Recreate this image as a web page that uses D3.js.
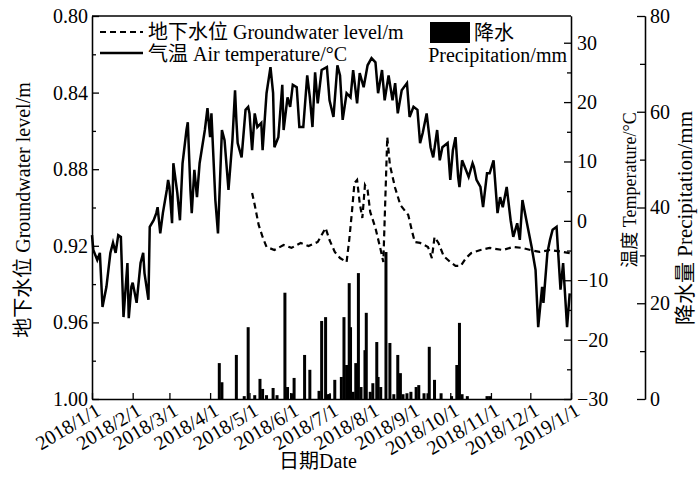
<!DOCTYPE html>
<html>
<head>
<meta charset="utf-8">
<script src="https://cdn.jsdelivr.net/npm/d3@7"></script>
<style>
body { margin: 0; background: #fff; }
svg text { font-family: "Liberation Serif", "Noto Sans CJK SC", serif; fill: #000; }
</style>
</head>
<body>
<svg width="700" height="490"></svg>
<script>
// daily air temperature, day offset from 2018/1/1 and value in °C
var tempDays = [0,1,4,6,8,11,14,16,18,20,22,24,27,28,30,31,34,37,39,40,43,44,47,49,50,52,54,57,58,59,61,62,65,67,69,72,73,75,76,78,80,82,86,88,90,91,94,96,99,101,104,107,109,110,111,114,117,119,120,122,124,126,129,130,133,136,138,139,142,145,146,149,151,153,156,158,161,164,166,168,170,172,175,179,181,184,187,189,191,194,197,199,202,204,207,210,213,216,218,221,223,226,229,231,233,236,240,242,245,248,250,252,255,258,260,263,265,267,271,273,275,277,279,280,282,284,287,290,291,293,296,298,301,303,306,309,311,313,316,319,321,324,326,328,331,335,338,340,343,344,347,349,351,354,357,359,362,364];
var tempVals = [-2.4,-4.9,-6.6,-5.4,-14.5,-11.1,-5.4,-3.7,-5.4,-2.4,-2.7,-16.2,-7.1,-16.4,-11.1,-10.4,-13.8,-7.1,-5.4,-8.8,-13.3,-1.0,0.1,1.3,2.3,-2.1,1.3,5.2,6.9,5.7,-0.4,9.7,4.7,0.1,9.7,15.3,16.6,5.2,1.3,8.6,4.0,9.7,15.3,19.0,14.1,18.1,3.5,-2.1,15.3,13.6,5.2,13.6,22.0,17.0,13.1,10.7,18.7,19.2,18.1,11.9,18.1,15.8,16.5,11.9,21.5,25.9,21.5,12.4,14.1,22.9,15.3,20.8,19.2,22.9,22.5,15.8,15.8,24.5,20.8,15.8,25.0,19.8,25.4,25.9,20.3,17.5,26.2,24.5,17.0,21.5,20.8,25.4,19.8,24.9,22.5,26.2,27.4,26.7,21.5,25.4,20.3,24.5,20.3,23.2,18.1,22.0,23.2,17.5,19.2,18.7,13.1,14.8,18.1,12.4,10.7,15.3,10.2,12.4,13.1,6.9,11.9,14.1,7.4,5.7,10.2,9.1,7.4,9.7,9.1,6.9,5.7,2.3,8.0,8.0,10.2,1.3,4.0,2.3,5.7,0.1,-2.7,-0.4,-3.2,3.5,0.1,-4.4,-8.3,-17.9,-11.1,-13.8,-5.4,-3.2,-1.5,-1.0,-11.6,-7.1,-17.9,-12.2];

// groundwater level (m)
var gwDays = [122,124,127,130,133,139,146,152,159,165,172,178,181,185,189,194,196,198,200,202,204,206,208,210,212,216,220,222,225,227,231,235,241,244,246,250,256,259,261,264,268,273,277,281,285,289,296,303,313,321,328,334,341,349,359,364];
var gwVals = [0.8924,0.8987,0.9091,0.9154,0.9206,0.9222,0.9196,0.9211,0.9185,0.9201,0.9180,0.9107,0.9170,0.9232,0.9264,0.9285,0.9170,0.9029,0.8872,0.8856,0.8977,0.9055,0.8883,0.8909,0.9023,0.9107,0.9222,0.9285,0.8632,0.8778,0.8898,0.8987,0.9039,0.9128,0.9180,0.9185,0.9206,0.9264,0.9154,0.9185,0.9254,0.9285,0.9305,0.9305,0.9264,0.9238,0.9222,0.9211,0.9222,0.9206,0.9211,0.9222,0.9232,0.9222,0.9232,0.9238];

// daily precipitation (mm)
var rainDays = [97,99,110,116,119,124,128,130,133,138,141,147,149,152,154,162,166,173,175,178,180,181,185,190,192,194,196,197,199,201,203,205,208,209,212,214,217,218,220,224,227,230,233,235,237,240,243,247,249,253,256,257,261,266,274,278,280,282,286,301,303];
var rainVals = [7.5,3.5,9.2,0.6,15,0.8,4.2,2.1,0.8,2.3,0.8,22.2,2.5,1.2,4.4,9.2,6.1,1.7,16.3,17.1,1.0,1.0,4.0,4.6,17.1,7.1,24.2,15.0,1.5,7.5,26.3,2.5,10.2,18.0,1.5,3.3,11.9,4.6,2.5,30.7,11.7,1.0,9.2,5.4,1.0,1.2,1.5,2.5,2.9,1.2,1.2,10.9,4.0,1.2,0.6,7.1,15.9,1.0,0.6,0.6,0.6];

var monthLabels = ["2018/1/1","2018/2/1","2018/3/1","2018/4/1","2018/5/1","2018/6/1","2018/7/1","2018/8/1","2018/9/1","2018/10/1","2018/11/1","2018/12/1","2019/1/1"];
var gwTicks = [0.80,0.84,0.88,0.92,0.96,1.00];
var tempTicks = [-30,-20,-10,0,10,20,30];
var rainTicks = [0,20,40,60,80];

var svg = d3.select("svg");
var start = new Date(2018,0,1);
var day = function(d){ return d3.timeDay.offset(start, d); };
var parse = d3.timeParse("%Y/%m/%d");

var x = d3.scaleTime().domain([start, new Date(2019,0,1)]).range([92,571]);
var yGw = d3.scaleLinear().domain([0.80,1.00]).range([16,399]);
var yT = d3.scaleLinear().domain([-30,34.5]).range([399,16]);
var yP = d3.scaleLinear().domain([0,80]).range([399,16]);

// precipitation bars
svg.append("g").selectAll("rect")
    .data(rainDays)
    .enter().append("rect")
    .attr("x", function(d){ return x(day(d)) - 1.5; })
    .attr("y", function(d,i){ return yP(rainVals[i]); })
    .attr("width", 3)
    .attr("height", function(d,i){ return yP(0) - yP(rainVals[i]); })
    .attr("fill", "#000");

// groundwater
var gwLine = d3.line()
    .x(function(d){ return x(day(d)); })
    .y(function(d,i){ return yGw(gwVals[i]); });
svg.append("path")
    .attr("d", gwLine(gwDays))
    .attr("fill", "none")
    .attr("stroke", "#000")
    .attr("stroke-width", 2.2)
    .attr("stroke-dasharray", "6,4");

// temperature
var tLine = d3.line()
    .x(function(d){ return x(day(d)); })
    .y(function(d,i){ return yT(tempVals[i]); });
svg.append("path")
    .attr("d", tLine(tempDays))
    .attr("fill", "none")
    .attr("stroke", "#000")
    .attr("stroke-width", 2.5);

// axes
var styleAxis = function(g, size){
    g.selectAll("path").attr("stroke", "#000").attr("stroke-width", 1.3);
    g.selectAll("line").attr("stroke", "#000").attr("stroke-width", 1.3);
    g.selectAll("text").attr("font-size", size);
    g.attr("font-family", null);
};

var minor = function(lo, hi, step){
    var a = [];
    for (var v = lo; v <= hi + 1e-9; v += step) a.push(+v.toFixed(3));
    return a;
};

svg.append("g").attr("transform","translate(92,0)")
    .call(d3.axisLeft(yGw).tickValues(minor(0.82,0.98,0.04)).tickSize(-4).tickSizeOuter(0).tickFormat(""))
    .call(styleAxis, 20);
svg.append("g").attr("transform","translate(92,0)")
    .call(d3.axisLeft(yGw).tickValues(gwTicks).tickSize(-7).tickSizeOuter(0).tickPadding(4).tickFormat(d3.format(".2f")))
    .call(styleAxis, 20);

svg.append("g").attr("transform","translate(571,0)")
    .call(d3.axisRight(yT).tickValues(minor(-25,25,10)).tickSize(-4).tickSizeOuter(0).tickFormat(""))
    .call(styleAxis, 20);
svg.append("g").attr("transform","translate(571,0)")
    .call(d3.axisRight(yT).tickValues(tempTicks).tickSize(-7).tickSizeOuter(0).tickPadding(6))
    .call(styleAxis, 20);

svg.append("g").attr("transform","translate(645,0)")
    .call(d3.axisRight(yP).tickValues(minor(10,70,20)).tickSize(-5).tickSizeOuter(0).tickFormat(""))
    .call(styleAxis, 20);
svg.append("g").attr("transform","translate(645,0)")
    .call(d3.axisRight(yP).tickValues(rainTicks).tickSize(-8).tickSizeOuter(0).tickPadding(5))
    .call(styleAxis, 20);

svg.append("g").attr("transform","translate(0,399)")
    .call(d3.axisBottom(x).tickValues(monthLabels.map(parse)).tickSize(-6).tickSizeOuter(0).tickFormat(""))
    .call(styleAxis, 20);

svg.append("line").attr("x1",92).attr("x2",571).attr("y1",16).attr("y2",16)
    .attr("stroke","#000").attr("stroke-width",1.3);

svg.append("g").selectAll("text")
    .data(monthLabels)
    .enter().append("text")
    .attr("transform", function(d){ return "translate(" + (x(parse(d)) + 10) + ",414) rotate(-31)"; })
    .attr("text-anchor", "end")
    .attr("font-size", 20)
    .text(function(d){ return d; });

// axis titles
svg.append("text").attr("x", 318).attr("y", 468).attr("text-anchor","middle")
    .attr("font-size", 20).text("日期Date");
svg.append("text").attr("transform","translate(30,210) rotate(-90)").attr("text-anchor","middle")
    .attr("font-size", 20).text("地下水位 Groundwater level/m");
svg.append("text").attr("transform","translate(636,190) rotate(-90)").attr("text-anchor","middle")
    .attr("font-size", 18).text("温度 Temperature/°C");
svg.append("text").attr("transform","translate(692,218) rotate(-90)").attr("text-anchor","middle")
    .attr("font-size", 21).text("降水量 Precipitation/mm");

// legend
var lg = svg.append("g");
lg.append("line").attr("x1",100).attr("x2",143).attr("y1",32).attr("y2",32)
    .attr("stroke","#000").attr("stroke-width",2.2).attr("stroke-dasharray","6,4");
lg.append("text").attr("x",148).attr("y",39).attr("font-size",20).text("地下水位 Groundwater level/m");
lg.append("line").attr("x1",100).attr("x2",143).attr("y1",53).attr("y2",53)
    .attr("stroke","#000").attr("stroke-width",2.5);
lg.append("text").attr("x",148).attr("y",61).attr("font-size",20).text("气温 Air temperature/°C");
lg.append("rect").attr("x",430).attr("y",22).attr("width",40).attr("height",21).attr("fill","#000");
lg.append("text").attr("x",474).attr("y",40).attr("font-size",20).text("降水");
lg.append("text").attr("x",567).attr("y",62).attr("text-anchor","end").attr("font-size",20).text("Precipitation/mm");
</script>
</body>
</html>
